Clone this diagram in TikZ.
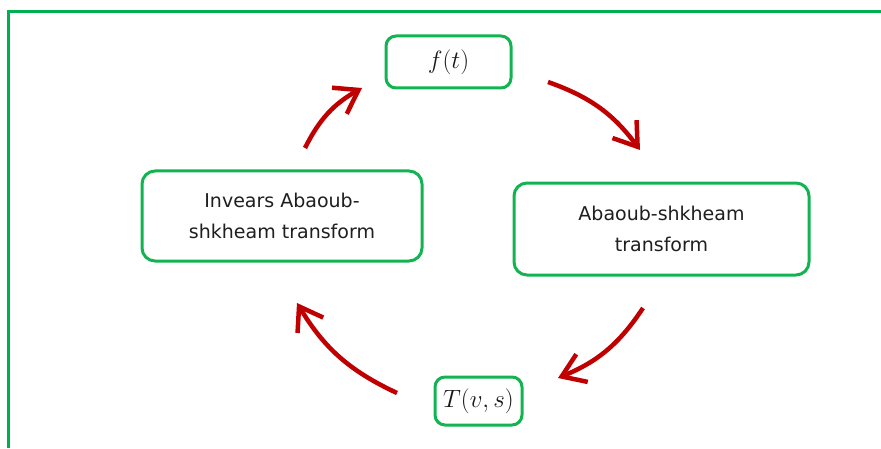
\RequirePackage{fix-cm}
\documentclass[tikz,border=0pt]{standalone}
\usepackage{fontspec}
\setmainfont{DejaVu Sans}
\usetikzlibrary{arrows.meta}
\definecolor{frgreen}{RGB}{0,176,80}
\definecolor{boxgreen}{RGB}{18,180,82}
\definecolor{arrred}{RGB}{192,0,0}
\begin{document}
\begin{tikzpicture}[x=1pt,y=1pt,
  box/.style={draw=boxgreen, line width=3pt, rounded corners=10pt, fill=white, align=center, inner sep=0pt},
  boxtext/.style={font=\fontsize{19}{31}\selectfont, text=black!88},
  mathtext/.style={font=\fontsize{25}{28}\selectfont, text=black!90},
  cyc/.style={draw=arrred, line width=4.5pt, bend left=17,
    -{Straight Barb[length=22pt,width=30pt,line width=4.5pt]}}]
\useasboundingbox (0,0) rectangle (881,448);
% frame
\draw[frgreen, line width=3pt] (8.7,0) -- (8.7,436.7) -- (881,436.7);
% nodes
\node[box, mathtext, minimum width=125pt, minimum height=52pt] (ft) at (448.5,386) {$f(t)$};
\node[box, boxtext, minimum width=280pt, minimum height=90pt, rounded corners=13pt] (inv) at (282,232) {Invears Abaoub-\\shkheam transform};
\node[box, boxtext, minimum width=295pt, minimum height=92pt, rounded corners=13pt] (ab) at (661.5,219) {Abaoub-shkheam\\transform};
\node[box, mathtext, minimum width=87pt, minimum height=48pt] (tv) at (478.5,47) {$T(v,s)$};
% arrow end points
\coordinate (a1s) at (305,300);
\coordinate (a1e) at (362,360);
\coordinate (a2s) at (548,366);
\coordinate (a2e) at (640,298);
\coordinate (a3s) at (643,140);
\coordinate (a3e) at (558,70);
\coordinate (a4s) at (397,55);
\coordinate (a4e) at (297,145);
\draw[cyc] (a1s) to (a1e);
\draw[cyc] (a2s) to (a2e);
\draw[cyc] (a3s) to (a3e);
\draw[cyc] (a4s) to (a4e);
\end{tikzpicture}
\end{document}
